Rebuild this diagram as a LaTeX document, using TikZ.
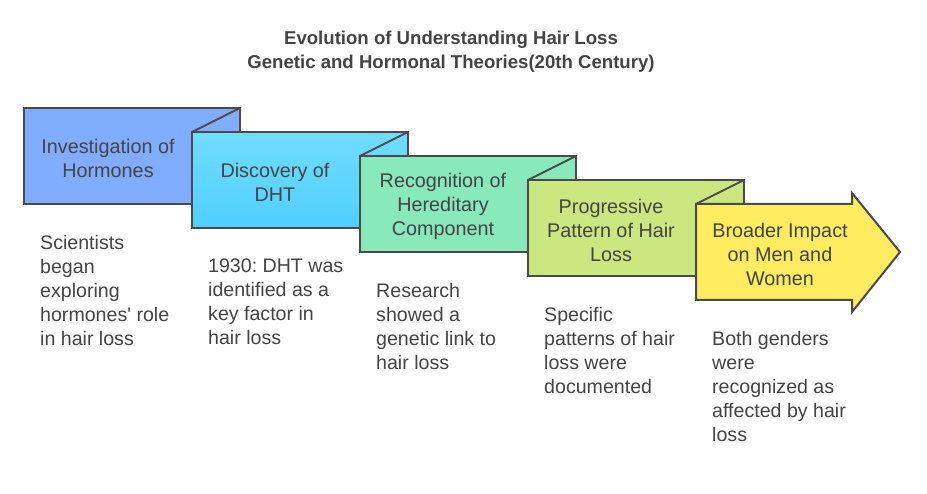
\documentclass[tikz,border=0pt]{standalone}
\usepackage{fontspec}
\setmainfont{Liberation Sans}
\frenchspacing
\definecolor{txt}{HTML}{444444}
\definecolor{edge}{HTML}{4A4A4A}
\definecolor{cA}{HTML}{80ADFF}
\definecolor{cBt}{HTML}{70DCFF}
\definecolor{cBb}{HTML}{50CFFF}
\definecolor{cC}{HTML}{88E9BA}
\definecolor{cD}{HTML}{CAE780}
\definecolor{cE}{HTML}{FFEC61}
\begin{document}
\begin{tikzpicture}[x=1pt,y=-1pt,
  boxline/.style={draw=edge,line width=2pt,line join=miter},
  lbl/.style={text=txt,font=\fontsize{19.8}{24}\selectfont,align=center,inner sep=0pt},
  desc/.style={text=txt,font=\fontsize{19.6}{24}\selectfont,align=left,inner sep=0pt,anchor=west},
  ttl/.style={text=txt,font=\bfseries\fontsize{18.6}{24}\selectfont,align=center,inner sep=0pt}]
\useasboundingbox (0,0) rectangle (927,494);
\fill[white] (0,0) rectangle (927,494);
% box 1
\draw[boxline,fill=cA] (24,108) rectangle (240,204);
% box 2
\draw[boxline,top color=cBt,bottom color=cBb] (192,132) rectangle (408,228);
\draw[boxline] (192,132) -- (240,108);
% box 3
\draw[boxline,fill=cC] (360,156) rectangle (576,252);
\draw[boxline] (360,156) -- (408,132);
% box 4
\draw[boxline,fill=cD] (528,180) rectangle (744,276);
\draw[boxline] (528,180) -- (576,156);
% box 5 arrow
\draw[boxline,fill=cE] (696,204) -- (852,204) -- (852,193) -- (900,252) -- (852,312) -- (852,300) -- (696,300) -- cycle;
\draw[boxline] (696,204) -- (744,180);
% title
\node[ttl] (title) at (451,52) {Evolution of Understanding Hair Loss\\Genetic and Hormonal Theories(20th Century)};
% labels
\node[lbl] (l1) at (108,158) {Investigation of\\Hormones};
\node[lbl] (l2) at (275,182) {Discovery of\\DHT};
\node[lbl] (l3) at (443,206) {Recognition of\\Hereditary\\Component};
\node[lbl] (l4) at (611,230) {Progressive\\Pattern of Hair\\Loss};
\node[lbl] (l5) at (780,254) {Broader Impact\\on Men and\\Women};
% descriptions
\node[desc] (d1) at (40,290) {Scientists\\began\\exploring\\hormones\textquotesingle{} role\\in hair loss};
\node[desc] (d2) at (208,302) {1930: DHT was\\identified as a\\key factor in\\hair loss};
\node[desc] (d3) at (376,326) {Research\\showed a\\genetic link to\\hair loss};
\node[desc] (d4) at (544,350) {Specific\\patterns of hair\\loss were\\documented};
\node[desc] (d5) at (712,386) {Both genders\\were\\recognized as\\affected by hair\\loss};
\end{tikzpicture}
\end{document}
